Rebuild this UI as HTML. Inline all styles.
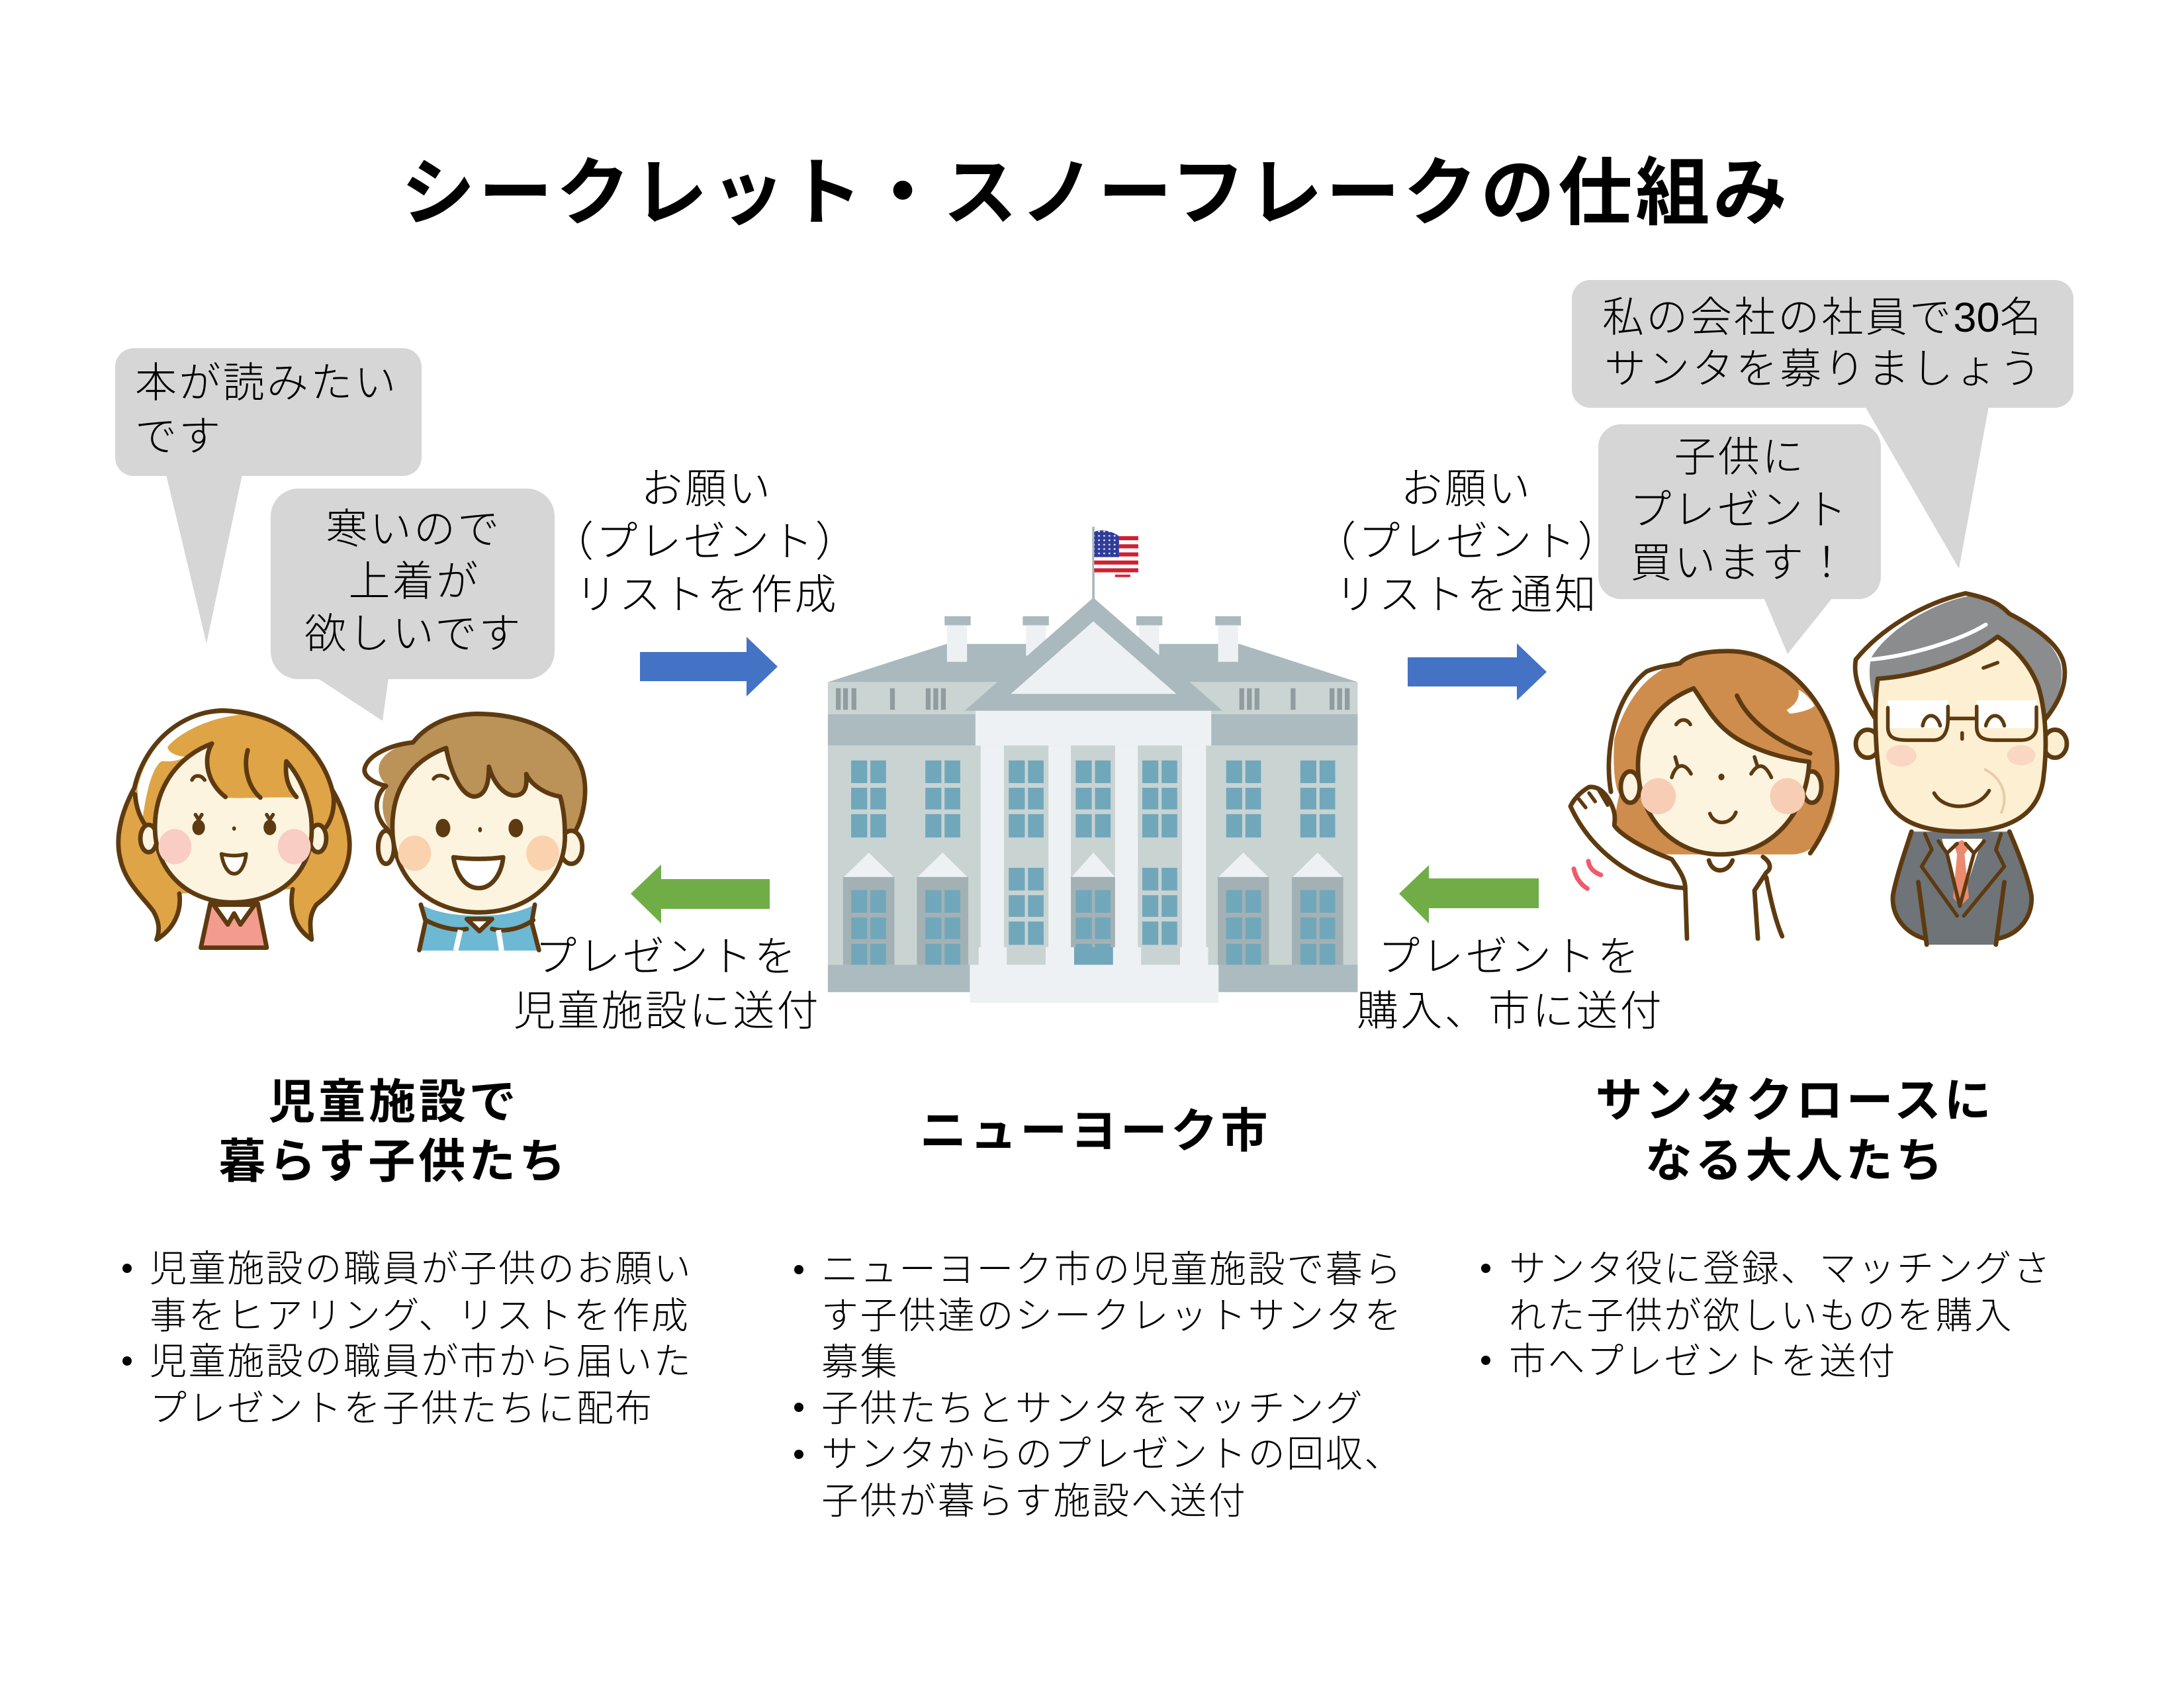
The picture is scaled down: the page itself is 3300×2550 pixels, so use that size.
<!DOCTYPE html>
<html lang="ja"><head><meta charset="utf-8"><title>シークレット・スノーフレークの仕組み</title>
<style>
html,body{margin:0;padding:0;background:#fff;width:3300px;height:2550px;overflow:hidden}
svg{display:block}
text{font-family:"Liberation Sans","Noto Sans CJK JP",sans-serif;fill:#000}
.t{font-size:112px;font-weight:700;letter-spacing:5px}
.h{font-size:71px;font-weight:700;letter-spacing:4.8px;text-anchor:middle}
.l{font-size:63px;font-weight:300;letter-spacing:3.3px}
.m{text-anchor:middle}
.b{font-size:56px;font-weight:300;letter-spacing:2.6px}
.s{stroke:#5e3a10;stroke-width:6.8;stroke-linejoin:round;stroke-linecap:round;vector-effect:non-scaling-stroke}
.th{stroke-width:5.5}
.n{fill:none}
</style></head><body>
<svg xmlns="http://www.w3.org/2000/svg" width="3300" height="2550" viewBox="0 0 3300 2550">
<defs>
<g id="w" fill="#71a7bb"><rect x="0" y="0" width="40" height="67"/><rect x="48" y="0" width="39" height="67"/><rect x="0" y="81" width="40" height="64"/><rect x="48" y="81" width="39" height="64"/><rect x="0" y="159" width="40" height="69"/><rect x="48" y="159" width="39" height="69"/></g>
<g id="bay"><rect x="-64" y="72" width="128" height="260" fill="#a3b1b5"/><path d="M0 0L62 72H-62Z" fill="#eef1f3"/></g>
<pattern id="stars" width="13" height="13" patternUnits="userSpaceOnUse"><rect width="13" height="13" fill="#2f3c9a"/><circle cx="6" cy="6" r="2.5" fill="#dfe3f5"/></pattern>
</defs>
<rect width="3300" height="2550" fill="#fff"/>

<text class="t" x="606" y="330">シークレット・スノーフレークの仕組み</text>

<!-- bubbles -->
<g fill="#d6d6d6">
<rect x="174" y="526" width="463" height="193" rx="28"/><path d="M251 717L312 972L366 717Z"/>
<rect x="409" y="738" width="429" height="288" rx="42"/><path d="M479 1024L578 1089L587 1024Z"/>
<rect x="2375" y="423" width="758" height="193" rx="28"/><path d="M2818 614L2960 859L3005 614Z"/>
<rect x="2415" y="641" width="427" height="264" rx="34"/><path d="M2665 903L2701 988L2769 903Z"/>
</g>
<text class="l" x="204" y="600">本が読みたい</text>
<text class="l" x="204" y="681">です</text>
<text class="l m" x="625" y="821">寒いので</text>
<text class="l m" x="626" y="900">上着が</text>
<text class="l m" x="625" y="979">欲しいです</text>
<text class="l" x="2421" y="501">私の会社の社員で<tspan font-weight="400" letter-spacing="0">30</tspan>名</text>
<text class="l" x="2424" y="579">サンタを募りましょう</text>
<text class="l m" x="2629" y="712">子供に</text>
<text class="l m" x="2628" y="792">プレゼント</text>
<text class="l m" x="2629" y="872">買います！</text>

<!-- labels -->
<text class="l m" x="1068" y="760">お願い</text>
<text class="l" x="834" y="840">（プレゼント）</text>
<text class="l m" x="1068" y="920">リストを作成</text>
<text class="l m" x="2216" y="760">お願い</text>
<text class="l" x="1986" y="840">（プレゼント）</text>
<text class="l m" x="2216" y="920">リストを通知</text>
<text class="l m" x="1007" y="1467">プレゼントを</text>
<text class="l m" x="1008" y="1549">児童施設に送付</text>
<text class="l m" x="2281" y="1467">プレゼントを</text>
<text class="l m" x="2282" y="1549">購入、市に送付</text>

<!-- arrows -->
<path transform="translate(-2,0)" d="M969 985H1130V962L1177 1007L1130 1052V1029H969Z" fill="#4472c4"/>
<path transform="translate(-3,0)" d="M2130 993H2295V972L2340 1015L2295 1058V1037H2130Z" fill="#4472c4"/>
<path transform="translate(-2,0)" d="M1165 1328H1001V1306L955 1350L1001 1395V1373H1165Z" fill="#70ad47"/>
<path transform="translate(-3,0)" d="M2328 1327H2162V1307L2117 1350L2162 1395V1372H2328Z" fill="#70ad47"/>

<!-- building -->
<g transform="translate(1200,760) scale(.606,.5102)">
<rect x="743" y="70" width="6" height="215" fill="#a9b7ba"/>
<path d="M748 85C770 75 790 85 810 98H858V200C840 205 825 220 805 212C785 200 770 195 748 205Z" fill="#fff"/>
<g fill="#cf2030"><rect x="790" y="98" width="68" height="12"/><rect x="790" y="122" width="68" height="12"/><rect x="790" y="146" width="68" height="12"/><rect x="748" y="170" width="110" height="12"/><rect x="748" y="193" width="110" height="12"/><rect x="800" y="212" width="38" height="7"/></g>
<path d="M748 85C770 75 795 85 810 98V160H748Z" fill="url(#stars)"/>
<path d="M84 530L380 417H1110L1405 530Z" fill="#a9b9bd"/>
<rect x="84" y="530" width="1321" height="95" fill="#c9d4d3"/>
<rect x="84" y="625" width="1321" height="93" fill="#acbbbf"/>
<rect x="84" y="718" width="1321" height="650" fill="#c9d3d2"/>
<g fill="#909c9f"><rect x="104" y="548" width="12" height="64"/><rect x="122" y="548" width="12" height="64"/><rect x="143" y="548" width="12" height="64"/><rect x="239" y="548" width="12" height="64"/><rect x="328" y="548" width="12" height="64"/><rect x="347" y="548" width="12" height="64"/><rect x="366" y="548" width="12" height="64"/><rect x="1110" y="548" width="12" height="64"/><rect x="1129" y="548" width="12" height="64"/><rect x="1148" y="548" width="12" height="64"/><rect x="1238" y="548" width="12" height="64"/><rect x="1335" y="548" width="12" height="64"/><rect x="1354" y="548" width="12" height="64"/><rect x="1373" y="548" width="12" height="64"/></g>
<g fill="#a9b9bd"><rect x="375" y="335" width="65" height="27"/><rect x="570" y="335" width="65" height="27"/><rect x="853" y="335" width="65" height="27"/><rect x="1050" y="335" width="64" height="27"/></g>
<g fill="#eef1f3"><rect x="381" y="362" width="50" height="108"/><rect x="578" y="362" width="50" height="90"/><rect x="860" y="362" width="50" height="90"/><rect x="1057" y="362" width="50" height="108"/></g>
<path d="M746 280L1068 615H425Z" fill="#a9b9bd"/>
<path d="M746 350L953 565H540Z" fill="#eef1f3"/>
<rect x="452" y="615" width="588" height="103" fill="#eef1f3"/>
<rect x="465" y="718" width="562" height="650" fill="#eef1f3"/>
<rect x="523" y="718" width="111" height="597" fill="#c9d3d2"/><rect x="690" y="718" width="110" height="597" fill="#c9d3d2"/><rect x="857" y="718" width="110" height="597" fill="#c9d3d2"/>
<rect x="460" y="1315" width="572" height="53" fill="#eef1f3"/>
<rect x="530" y="1315" width="97" height="53" fill="#c9d3d2"/><rect x="865" y="1315" width="97" height="53" fill="#c9d3d2"/>
<use href="#w" x="142" y="762"/><use href="#w" x="327" y="762"/><use href="#w" x="535" y="762"/><use href="#w" x="702" y="762"/><use href="#w" x="868" y="762"/><use href="#w" x="1077" y="762"/><use href="#w" x="1262" y="762"/>
<use href="#w" x="535" y="1080"/><use href="#w" x="868" y="1080"/>
<use href="#bay" x="186" y="1035"/><use href="#bay" x="370" y="1035"/><use href="#bay" x="1120" y="1035"/><use href="#bay" x="1305" y="1035"/>
<path d="M746 1035L800 1107H692Z" fill="#eef1f3"/><rect x="690" y="1107" width="110" height="208" fill="#a3b1b5"/>
<rect x="698" y="1315" width="97" height="53" fill="#71a7bb"/>
<use href="#w" x="142" y="1146"/><use href="#w" x="327" y="1146"/><use href="#w" x="702" y="1146"/><use href="#w" x="1077" y="1146"/><use href="#w" x="1262" y="1146"/>
<rect x="84" y="1367" width="354" height="81" fill="#acbbbf"/><rect x="1058" y="1367" width="347" height="81" fill="#acbbbf"/>
<rect x="438" y="1367" width="620" height="113" fill="#eef1f3"/>
</g>

<!-- kids -->
<g transform="translate(160,1050) scale(.4783,.3333)">
<!-- girl -->
<path fill="#dfa445" d="M370 70C230 75 120 230 90 420C45 540 30 650 45 740C60 850 120 920 150 980C170 1030 170 1070 160 1108C215 1060 240 980 232 900L590 880C580 960 590 1050 650 1108C645 1050 640 1000 665 950C720 890 770 800 770 680C770 600 745 500 715 430C680 240 560 80 370 70Z"/>
<path fill="#fff" d="M340 85C230 100 130 230 100 420C100 480 105 520 115 570C125 470 140 340 175 300C195 300 220 305 250 280C215 275 195 255 195 235C220 190 300 110 420 90C395 80 365 82 340 85Z"/>
<path class="s n" d="M92 450C95 500 105 550 125 590M715 430C725 480 720 550 695 600"/>
<path class="s n" d="M232 900C240 980 215 1060 160 1108C170 1070 170 1030 150 980C120 920 60 850 45 740C30 650 45 540 90 420C120 230 230 75 370 70C560 80 680 240 715 430C745 500 770 600 770 680C770 800 720 890 665 950C640 1000 645 1050 650 1108C590 1050 580 960 590 880"/>
<path class="s" fill="#f49b90" d="M330 945L300 1145H508L480 945Z"/>
<path class="s" fill="#fff" d="M340 950L385 1040L405 990L425 1040L470 950Z"/>
<ellipse class="s" fill="#fdf4e0" cx="135" cy="650" rx="26" ry="62"/><ellipse class="s" fill="#fdf4e0" cx="670" cy="650" rx="26" ry="62"/>
<path fill="#fdf4e0" d="M335 220C240 270 155 400 155 600C155 800 260 940 400 940C550 940 655 800 650 600C650 500 620 380 570 300C560 360 580 420 605 465C530 460 450 470 380 465C340 420 310 330 335 220Z"/>
<path class="s n" d="M335 220C240 270 155 400 155 600C155 800 260 940 400 940C550 940 655 800 650 600C650 500 620 380 570 300M335 220C305 290 320 400 378 462M448 250C435 320 445 410 488 465M570 300C565 370 575 420 602 462"/>
<ellipse cx="218" cy="687" rx="52" ry="80" fill="#f9cdc4"/><ellipse cx="595" cy="687" rx="52" ry="80" fill="#f9cdc4"/>
<ellipse cx="293" cy="600" rx="20" ry="35" fill="#5e3a10"/><ellipse cx="518" cy="600" rx="20" ry="35" fill="#5e3a10"/>
<ellipse cx="405" cy="605" rx="6" ry="10" fill="#5e3a10"/>
<path class="s n th" d="M283 542L293 565L303 542M508 542L518 565L528 542M272 385C280 360 300 360 312 385"/>
<path class="s th" fill="#fff" d="M365 720C390 730 420 730 443 720C440 770 425 810 405 810C385 810 370 770 365 720Z"/>
<!-- boy -->
<path fill="#bb9258" d="M1170 85C1060 90 1000 160 970 215C920 230 880 260 865 310C855 350 870 390 890 410C870 470 865 540 900 620L1480 625C1510 550 1520 450 1510 370C1490 210 1360 85 1170 85Z"/>
<path class="s n" d="M1480 625C1510 550 1520 450 1510 370C1490 210 1360 85 1170 85C1060 90 1000 160 970 215C900 225 830 270 818 330C810 370 850 400 885 412C850 450 840 540 890 610"/>
<path fill="#6db8d3" d="M995 950L1010 1030L990 1158H1368L1345 1040L1355 950C1300 990 1240 1000 1180 1000C1110 1000 1050 990 995 950Z"/>
<path class="s n" d="M995 950L1010 1025L990 1156M1355 950L1345 1030L1368 1156M1010 1020C1050 1050 1100 1070 1140 1060M1350 1020C1310 1060 1260 1075 1220 1060"/>
<path class="s" fill="#fff" d="M1140 1015L1180 1070L1220 1015Z"/>
<path fill="none" stroke="#fff" stroke-width="8" vector-effect="non-scaling-stroke" d="M1120 1065L1105 1158M1240 1065L1250 1158"/>
<ellipse class="s" fill="#fdf4e0" cx="885" cy="690" rx="25" ry="75"/><ellipse class="s" fill="#fdf4e0" cx="1470" cy="690" rx="35" ry="75"/>
<path class="s" fill="#fdf4e0" d="M1075 240C960 300 905 430 905 600C905 830 1020 985 1180 985C1340 985 1455 830 1450 630C1450 560 1445 510 1435 460C1390 450 1345 410 1328 358C1330 400 1330 450 1295 455C1260 460 1225 400 1210 325C1210 380 1205 455 1165 460C1120 460 1085 330 1075 240Z"/>
<ellipse cx="975" cy="717" rx="52" ry="80" fill="#fbd2ae"/><ellipse cx="1380" cy="717" rx="52" ry="80" fill="#fbd2ae"/>
<ellipse cx="1065" cy="603" rx="23" ry="42" fill="#5e3a10"/><ellipse cx="1295" cy="603" rx="23" ry="42" fill="#5e3a10"/>
<ellipse cx="1182" cy="610" rx="6" ry="12" fill="#5e3a10"/>
<path class="s n th" d="M1035 380C1045 360 1065 360 1080 378"/>
<path class="s" fill="#fff" d="M1098 735C1150 745 1210 745 1255 735C1250 810 1220 875 1178 875C1135 875 1105 810 1098 735Z"/>
</g>

<!-- adults -->
<g transform="translate(2350,880) scale(.5102,.3635)">
<!-- woman -->
<path fill="#cf8d4d" d="M510 285C450 285 390 300 370 335C280 360 210 480 175 650C170 750 175 850 190 880C175 960 175 1010 195 1050C230 1100 280 1130 340 1130L700 1130C760 1130 800 1060 820 980C845 870 840 750 815 620C790 500 720 380 640 330C600 300 560 285 510 285Z"/>
<path fill="#fff" d="M720 445C725 480 710 510 685 530L695 545C730 540 760 525 768 512C760 490 740 460 720 445Z"/>
<path class="s n" d="M165 870C145 720 170 480 270 370C300 350 340 345 370 335C390 300 450 285 510 285C560 285 600 300 640 330C720 380 800 520 825 660C845 770 840 960 755 1125"/>
<path class="s" fill="#fff" d="M45 930C55 900 75 870 100 850C130 845 155 880 170 935C180 970 175 1000 175 1010C195 1050 260 1105 345 1150C365 1190 385 1230 385 1270C250 1260 110 1130 45 930Z"/>
<path class="s n th" d="M70 900L90 935M100 875L118 910M130 865L155 925"/>
<path class="s n" d="M385 1270L390 1480M615 1140C640 1165 640 1190 625 1205L590 1280L600 1480M625 1225C635 1300 650 1400 672 1470M455 1155C465 1210 510 1210 525 1155"/>
<ellipse class="s" fill="#fdf4e0" cx="222" cy="850" rx="28" ry="65"/><ellipse class="s" fill="#fdf4e0" cx="760" cy="850" rx="28" ry="65"/>
<path class="s" fill="#fdf4e0" d="M410 440C300 500 245 620 245 760C245 980 350 1130 490 1130C640 1130 745 960 752 745C660 730 560 680 510 620C465 570 440 500 410 440Z"/>
<path class="s n" d="M538 470C570 570 650 660 755 710"/>
<ellipse cx="305" cy="888" rx="52" ry="75" fill="#f8cdb5"/><ellipse cx="688" cy="888" rx="52" ry="75" fill="#f8cdb5"/>
<path class="s n th" d="M355 725L362 760M345 810C355 760 380 740 402 795M590 725L598 760M580 795C600 750 620 750 640 810M358 590C370 565 390 565 400 590M458 960C470 1010 520 1010 535 955"/>
<ellipse cx="492" cy="808" rx="9" ry="14" fill="#5e3a10"/>
<path fill="none" stroke="#f15a6b" stroke-width="7" stroke-linecap="round" vector-effect="non-scaling-stroke" d="M55 1190C60 1225 75 1255 95 1272M98 1158C100 1185 115 1205 135 1215"/>
<!-- man -->
<path fill="#6e7478" d="M1055 1035C1040 1100 1010 1220 1000 1300C995 1390 1040 1460 1095 1480L1100 1505H1305L1310 1480C1380 1460 1415 1380 1410 1300C1400 1220 1365 1100 1345 1035Z"/>
<path class="s n" d="M1055 1035C1040 1100 1010 1220 1000 1300C995 1390 1040 1460 1095 1480M1345 1035C1365 1100 1400 1220 1410 1300C1415 1380 1380 1460 1310 1480M1075 1245L1100 1505M1330 1245L1305 1505"/>
<path fill="#fff" d="M1145 1065H1265L1200 1340Z"/>
<path fill="#ea8b6f" d="M1180 1085L1205 1070L1228 1095L1212 1130L1225 1310L1200 1345L1178 1310L1190 1130Z"/>
<path class="s n th" d="M1095 1045L1115 1110L1085 1180L1190 1385M1320 1045L1305 1110L1330 1180L1210 1385M1135 1075L1160 1125L1190 1085M1270 1075L1240 1125L1215 1085M1160 1125L1198 1345L1240 1125"/>
<path fill="#8a8c8e" d="M1230 55C1120 80 980 200 935 315C925 380 935 450 945 500L955 400C1100 390 1230 310 1310 225C1370 270 1430 380 1450 560C1490 500 1510 400 1495 330C1470 240 1410 180 1345 135C1320 90 1280 60 1230 55Z"/>
<path class="s n" d="M945 560C910 480 880 400 890 320C960 200 1080 90 1215 45C1300 70 1320 95 1345 130C1430 190 1490 260 1505 330C1520 420 1490 500 1450 570"/>
<ellipse class="s" fill="#fdf0d2" cx="925" cy="670" rx="35" ry="58"/><ellipse class="s" fill="#fdf0d2" cx="1480" cy="670" rx="35" ry="58"/>
<path class="s" fill="#fdf0d2" d="M1310 225C1230 310 1100 385 955 400C945 500 945 700 965 840C985 960 1050 1035 1200 1035C1350 1035 1430 960 1445 820C1460 660 1450 520 1430 430C1405 340 1360 270 1310 225Z"/>
<path fill="none" stroke="#fff" stroke-width="6" stroke-linecap="round" vector-effect="non-scaling-stroke" d="M935 320C1050 305 1200 240 1275 175"/>
<rect x="985" y="490" width="178" height="115" fill="#fff"/><rect x="1248" y="490" width="177" height="115" fill="#fff"/>
<path class="s n th" d="M985 520V600C985 640 1000 655 1040 655H1120C1150 655 1163 620 1163 565V515M1163 565H1248M1248 515V600C1248 640 1265 655 1300 655H1380C1410 655 1425 630 1425 600V518M1088 595C1095 540 1130 540 1140 595M1275 595C1285 540 1320 540 1330 595M1268 355L1310 333M1205 625V650M1122 875C1150 950 1250 950 1285 865"/>
<ellipse cx="1025" cy="720" rx="45" ry="45" fill="#f9d7c3"/><ellipse cx="1380" cy="718" rx="42" ry="42" fill="#f9d7c3"/>
<path fill="none" stroke="#eccaa8" stroke-width="4" vector-effect="non-scaling-stroke" d="M1270 775C1320 810 1345 880 1320 960"/>
</g>

<!-- headings -->
<text class="h" x="595" y="1689">児童施設で</text>
<text class="h" x="595" y="1779">暮らす子供たち</text>
<text class="h" x="1655" y="1733">ニューヨーク市</text>
<text class="h" x="2712" y="1687">サンタクロースに</text>
<text class="h" x="2713" y="1778">なる大人たち</text>

<!-- bullets -->
<g fill="#000"><circle cx="192" cy="1916" r="7"/><circle cx="192" cy="2056" r="7"/><circle cx="1207" cy="1918" r="7"/><circle cx="1207" cy="2126" r="7"/><circle cx="1207" cy="2197" r="7"/><circle cx="2245" cy="1916" r="7"/><circle cx="2245" cy="2055" r="7"/></g>
<text class="b" x="226" y="1936">児童施設の職員が子供のお願い</text>
<text class="b" x="226" y="2007">事をヒアリング、リストを作成</text>
<text class="b" x="226" y="2076">児童施設の職員が市から届いた</text>
<text class="b" x="226" y="2147">プレゼントを子供たちに配布</text>
<text class="b" x="1241" y="1937">ニューヨーク市の児童施設で暮ら</text>
<text class="b" x="1241" y="2007">す子供達のシークレットサンタを</text>
<text class="b" x="1241" y="2077">募集</text>
<text class="b" x="1241" y="2147">子供たちとサンタをマッチング</text>
<text class="b" x="1241" y="2216">サンタからのプレゼントの回収、</text>
<text class="b" x="1241" y="2287">子供が暮らす施設へ送付</text>
<text class="b" x="2280" y="1936">サンタ役に登録、マッチングさ</text>
<text class="b" x="2280" y="2007">れた子供が欲しいものを購入</text>
<text class="b" x="2280" y="2076">市へプレゼントを送付</text>
</svg>
</body></html>
